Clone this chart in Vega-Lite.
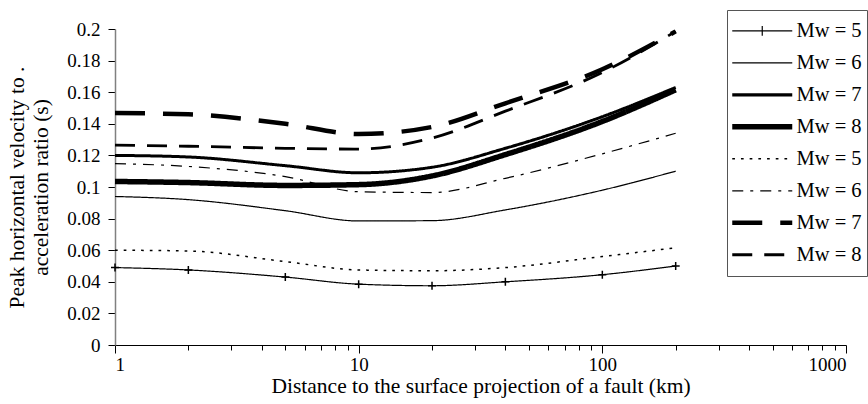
{
  "$schema": "https://vega.github.io/schema/vega-lite/v6.json",
  "width": 731,
  "height": 316,
  "autosize": {"type": "none"},
  "padding": {"left": 115, "top": 29, "right": 22, "bottom": 59},
  "background": "white",
  "config": {
    "font": "'Liberation Serif', 'Times New Roman', 'DejaVu Serif', serif",
    "view": {"stroke": null},
    "axis": {"grid": false, "labelFont": "'Liberation Serif', 'Times New Roman', 'DejaVu Serif', serif", "titleFont": "'Liberation Serif', 'Times New Roman', 'DejaVu Serif', serif", "labelColor": "black", "titleColor": "black", "titleFontWeight": "normal"},
    "legend": {"labelFont": "'Liberation Serif', 'Times New Roman', 'DejaVu Serif', serif"}
  },
  "data": {
    "values": [
      {"series": "A5", "distance": 1, "ratio": 0.049},
      {"series": "A5", "distance": 2, "ratio": 0.0475},
      {"series": "A5", "distance": 5, "ratio": 0.043},
      {"series": "A5", "distance": 10, "ratio": 0.0385},
      {"series": "A5", "distance": 20, "ratio": 0.0375},
      {"series": "A5", "distance": 40, "ratio": 0.040},
      {"series": "A5", "distance": 100, "ratio": 0.0445},
      {"series": "A5", "distance": 200, "ratio": 0.050},
      {"series": "A6", "distance": 1, "ratio": 0.094},
      {"series": "A6", "distance": 2, "ratio": 0.092},
      {"series": "A6", "distance": 5, "ratio": 0.085},
      {"series": "A6", "distance": 10, "ratio": 0.0785},
      {"series": "A6", "distance": 20, "ratio": 0.0787},
      {"series": "A6", "distance": 40, "ratio": 0.0855},
      {"series": "A6", "distance": 100, "ratio": 0.098},
      {"series": "A6", "distance": 200, "ratio": 0.110},
      {"series": "A7", "distance": 1, "ratio": 0.120},
      {"series": "A7", "distance": 2, "ratio": 0.119},
      {"series": "A7", "distance": 5, "ratio": 0.1135},
      {"series": "A7", "distance": 10, "ratio": 0.109},
      {"series": "A7", "distance": 20, "ratio": 0.1125},
      {"series": "A7", "distance": 40, "ratio": 0.1245},
      {"series": "A7", "distance": 100, "ratio": 0.1445},
      {"series": "A7", "distance": 200, "ratio": 0.163},
      {"series": "A8", "distance": 1, "ratio": 0.1035},
      {"series": "A8", "distance": 2, "ratio": 0.1028},
      {"series": "A8", "distance": 5, "ratio": 0.101},
      {"series": "A8", "distance": 10, "ratio": 0.1015},
      {"series": "A8", "distance": 20, "ratio": 0.107},
      {"series": "A8", "distance": 40, "ratio": 0.1205},
      {"series": "A8", "distance": 100, "ratio": 0.1415},
      {"series": "A8", "distance": 200, "ratio": 0.1615},
      {"series": "B5", "distance": 1, "ratio": 0.060},
      {"series": "B5", "distance": 2, "ratio": 0.0595},
      {"series": "B5", "distance": 5, "ratio": 0.0528},
      {"series": "B5", "distance": 10, "ratio": 0.0475},
      {"series": "B5", "distance": 20, "ratio": 0.047},
      {"series": "B5", "distance": 40, "ratio": 0.049},
      {"series": "B5", "distance": 100, "ratio": 0.056},
      {"series": "B5", "distance": 200, "ratio": 0.0615},
      {"series": "B6", "distance": 1, "ratio": 0.1148},
      {"series": "B6", "distance": 2, "ratio": 0.113},
      {"series": "B6", "distance": 5, "ratio": 0.1066},
      {"series": "B6", "distance": 10, "ratio": 0.097},
      {"series": "B6", "distance": 20, "ratio": 0.0965},
      {"series": "B6", "distance": 40, "ratio": 0.1055},
      {"series": "B6", "distance": 100, "ratio": 0.121},
      {"series": "B6", "distance": 200, "ratio": 0.134},
      {"series": "B7", "distance": 1, "ratio": 0.1468},
      {"series": "B7", "distance": 2, "ratio": 0.146},
      {"series": "B7", "distance": 5, "ratio": 0.140},
      {"series": "B7", "distance": 10, "ratio": 0.1335},
      {"series": "B7", "distance": 20, "ratio": 0.138},
      {"series": "B7", "distance": 40, "ratio": 0.153},
      {"series": "B7", "distance": 100, "ratio": 0.1745},
      {"series": "B7", "distance": 200, "ratio": 0.1985},
      {"series": "B8", "distance": 1, "ratio": 0.1265},
      {"series": "B8", "distance": 2, "ratio": 0.1258},
      {"series": "B8", "distance": 5, "ratio": 0.1245},
      {"series": "B8", "distance": 10, "ratio": 0.124},
      {"series": "B8", "distance": 20, "ratio": 0.131},
      {"series": "B8", "distance": 40, "ratio": 0.148},
      {"series": "B8", "distance": 100, "ratio": 0.1725},
      {"series": "B8", "distance": 200, "ratio": 0.1985}
    ]
  },
  "encoding": {
    "x": {
      "field": "distance",
      "type": "quantitative",
      "scale": {"type": "log", "domain": [1, 1000]},
      "axis": {
        "title": "Distance to the surface projection of a fault (km)",
        "values": [1, 2, 3, 4, 5, 6, 7, 8, 9, 10, 20, 30, 40, 50, 60, 70, 80, 90, 100, 200, 300, 400, 500, 600, 700, 800, 900, 1000],
        "labelExpr": "indexof([1, 10, 100, 1000], datum.value) >= 0 ? format(datum.value, 'd') : ''",
        "labelOverlap": false,
        "labelFontSize": 19,
        "labelPadding": 2,
        "titleFontSize": 21.5,
        "titlePadding": 1,
        "domainColor": "black",
        "tickColor": "black",
        "tickSize": {"condition": {"test": "indexof([1, 10, 100, 1000], datum.value) >= 0", "value": 8}, "value": 5}
      }
    },
    "y": {
      "field": "ratio",
      "type": "quantitative",
      "scale": {"domain": [0, 0.2]},
      "axis": {
        "title": ["Peak horizontal velocity to  .", "acceleration ratio (s)"],
        "values": [0, 0.02, 0.04, 0.06, 0.08, 0.1, 0.12, 0.14, 0.16, 0.18, 0.2],
        "format": ".2~f",
        "labelOverlap": false,
        "labelFontSize": 19,
        "labelPadding": 8,
        "tickSize": 7,
        "tickColor": "black",
        "domainColor": "#808080",
        "domainWidth": 1.5,
        "titleFontSize": 21.5,
        "titleLineHeight": 24,
        "titlePadding": 14
      }
    }
  },
  "layer": [
    {
      "mark": {"type": "line", "interpolate": "monotone", "color": "black"},
      "encoding": {
        "strokeDash": {
          "field": "series",
          "type": "nominal",
          "scale": {
            "domain": ["A5", "A6", "A7", "A8", "B5", "B6", "B7", "B8"],
            "range": [[1, 0], [1, 0], [1, 0], [1, 0], [2.7, 6], [11, 7, 3, 7], [30, 18], [20, 12]]
          },
          "legend": {
            "title": null,
            "orient": "none",
            "legendX": 612,
            "legendY": -19,
            "symbolType": {"expr": "datum.value === 'A5' ? 'M-1,0H1M0,-0.16V0.16' : 'stroke'"},
            "symbolSize": 3600,
            "symbolOffset": 20,
            "symbolStrokeWidth": {"expr": "datum.value === 'A7' ? 3.3 : datum.value === 'A8' ? 5.5 : datum.value === 'B7' ? 4.5 : datum.value === 'B8' ? 3 : datum.value === 'B5' ? 1.5 : 1.2"},
            "symbolStrokeColor": "black",
            "labelExpr": "'Mw = ' + slice(datum.value, 1)",
            "labelFontSize": 20.5,
            "labelColor": "black",
            "labelOffset": 24,
            "labelLimit": 200,
            "clipHeight": 31.7,
            "rowPadding": 0,
            "padding": 5,
            "strokeColor": "#555555",
            "fillColor": "white"
          }
        },
        "strokeWidth": {
          "condition": [
            {"test": "datum.series === 'A7'", "value": 3},
            {"test": "datum.series === 'A8'", "value": 5.5},
            {"test": "datum.series === 'B7'", "value": 4.5},
            {"test": "datum.series === 'B8'", "value": 2.8},
            {"test": "datum.series === 'B5'", "value": 1.5}
          ],
          "value": 1.2
        }
      }
    },
    {
      "transform": [{"filter": "datum.series === 'A5'"}],
      "mark": {"type": "point", "shape": "M-1,0H1M0,-1V1", "size": 64, "filled": false, "color": "black", "strokeWidth": 1.5, "opacity": 1}
    }
  ]
}
